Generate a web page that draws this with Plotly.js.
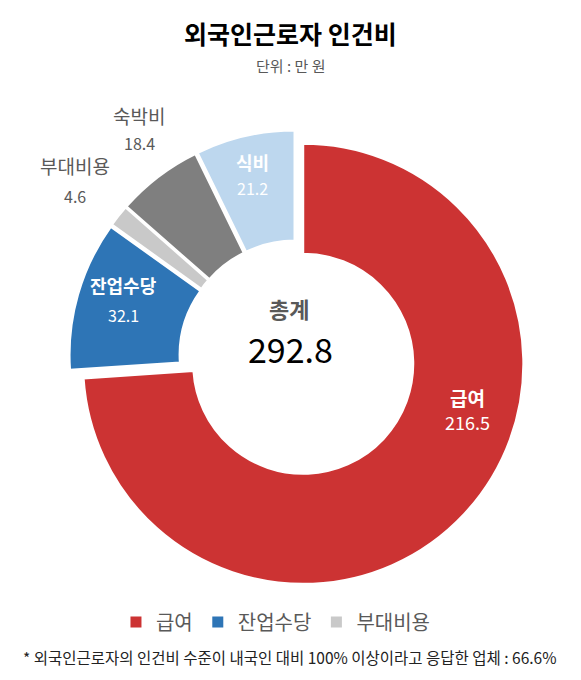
<!DOCTYPE html>
<html>
<head>
<meta charset="utf-8">
<script src="https://cdn.plot.ly/plotly-3.0.1.min.js"></script>
<style>
  html, body { margin: 0; padding: 0; background: #fff; }
  #chart { width: 581px; height: 680px; }
</style>
</head>
<body>
<div id="chart"></div>
<script>
    // --- DATA ---
    const categories = ['급여', '잔업수당', '부대비용', '숙박비', '식비'];
    const values = [216.5, 32.1, 4.6, 18.4, 21.2];
    const legendItems = ['급여', '잔업수당', '부대비용'];
    const totalLabel = '총계';
    const totalValue = 292.8;

    // --- PALETTE ---
    const colors = {
        red: '#CC3333',
        blue: '#2E75B6',
        lightGray: '#C9C9C9',
        darkGray: '#7F7F7F',
        lightBlue: '#BDD7EE',
        label: '#595959'
    };
    const sliceColors = [colors.red, colors.blue, colors.lightGray, colors.darkGray, colors.lightBlue];
    const FONT = '"Noto Sans CJK KR", "Noto Sans", sans-serif';

    // label placement for each slice (paper pixels) and its text colour
    const labelStyle = [
        { x: 467, y: 397, dy: 25, color: '#FFFFFF', size: 19, vsize: 18 },
        { x: 123, y: 285, dy: 30, color: '#FFFFFF', size: 18, vsize: 16 },
        { x: 75, y: 165, dy: 31, color: colors.label, size: 19, vsize: 16 },
        { x: 139, y: 115, dy: 28, color: colors.label, size: 19, vsize: 16 },
        { x: 252, y: 162, dy: 26, color: '#FFFFFF', size: 18, vsize: 16 }
    ];

    const W = 581, H = 680;
    const px = x => x / W;
    const py = y => 1 - y / H;

    const pie = {
        type: 'pie',
        labels: categories,
        values: values,
        sort: false,
        direction: 'clockwise',
        rotation: 0,
        hole: 0.5,
        pull: [0.045, 0.03, 0.03, 0.03, 0.03],
        textinfo: 'none',
        showlegend: false,
        hoverinfo: 'label+value',
        marker: { colors: sliceColors, line: { color: '#FFFFFF', width: 2 } },
        domain: { x: [px(66), px(526)], y: [py(587), py(127)] }
    };

    // legend-only entries (the reference shows three of the five items)
    const legendTraces = legendItems.map(function(name) {
        return {
            type: 'scatter',
            mode: 'markers',
            x: [null], y: [null],
            name: name,
            marker: { symbol: 'square', size: 11, color: sliceColors[categories.indexOf(name)] },
            hoverinfo: 'skip'
        };
    });

    const annotations = [];
    categories.forEach(function(cat, i) {
        const s = labelStyle[i];
        annotations.push({
            xref: 'paper', yref: 'paper', x: px(s.x), y: py(s.y),
            text: i === 1 || i === 0 || i === 4 ? '<b>' + cat + '</b>' : cat,
            showarrow: false, xanchor: 'center', yanchor: 'middle',
            font: { family: FONT, size: s.size, color: s.color }
        });
        annotations.push({
            xref: 'paper', yref: 'paper', x: px(s.x), y: py(s.y + s.dy),
            text: String(values[i]),
            showarrow: false, xanchor: 'center', yanchor: 'middle',
            font: { family: FONT, size: s.vsize, color: s.color }
        });
    });

    // title, unit, centre total, footnote
    annotations.push(
        { xref: 'paper', yref: 'paper', x: px(290), y: py(33), text: '<b>외국인근로자 인건비</b>',
          showarrow: false, xanchor: 'center', yanchor: 'middle',
          font: { family: FONT, size: 25, color: '#000000' } },
        { xref: 'paper', yref: 'paper', x: px(290), y: py(66), text: '단위 : 만 원',
          showarrow: false, xanchor: 'center', yanchor: 'middle',
          font: { family: FONT, size: 15, color: colors.label } },
        { xref: 'paper', yref: 'paper', x: px(289), y: py(308), text: '<b>' + totalLabel + '</b>',
          showarrow: false, xanchor: 'center', yanchor: 'middle',
          font: { family: FONT, size: 22, color: colors.label } },
        { xref: 'paper', yref: 'paper', x: px(290), y: py(348), text: totalValue.toFixed(1),
          showarrow: false, xanchor: 'center', yanchor: 'middle',
          font: { family: FONT, size: 34, color: '#000000' } },
        { xref: 'paper', yref: 'paper', x: px(290), y: py(657),
          text: '* 외국인근로자의 인건비 수준이 내국인 대비 100% 이상이라고 응답한 업체 : 66.6%',
          showarrow: false, xanchor: 'center', yanchor: 'middle',
          font: { family: FONT, size: 15.5, color: '#222222' } }
    );

    const layout = {
        width: W, height: H,
        margin: { t: 0, r: 0, b: 0, l: 0 },
        paper_bgcolor: '#FFFFFF',
        plot_bgcolor: '#FFFFFF',
        font: { family: FONT, color: colors.label },
        xaxis: { visible: false, domain: [0, 0.01] },
        yaxis: { visible: false, domain: [0, 0.01] },
        showlegend: true,
        legend: {
            orientation: 'h',
            x: 0.475, xanchor: 'center',
            y: py(622), yanchor: 'middle',
            itemwidth: 30,
            font: { family: FONT, size: 20, color: colors.label },
            itemclick: false, itemdoubleclick: false
        },
        annotations: annotations
    };

    Plotly.newPlot('chart', [pie].concat(legendTraces), layout, { displayModeBar: false, staticPlot: true });
</script>
</body>
</html>
